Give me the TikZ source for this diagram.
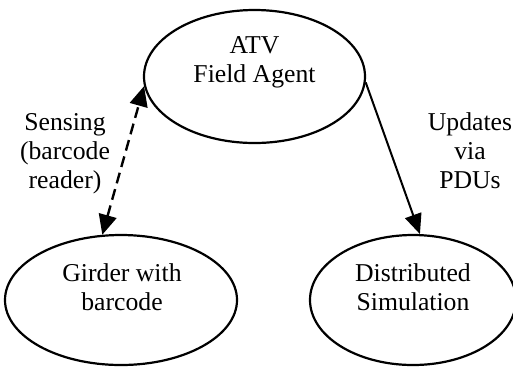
\documentclass[tikz,border=0pt]{standalone}
\usepackage{fontspec}
\setmainfont{Liberation Serif}
\usetikzlibrary{arrows.meta,shapes.geometric}

\begin{document}
\begin{tikzpicture}[x=0.5pt,y=-0.5pt,
    every node/.style={font=\fontsize{12.85}{14.5}\selectfont, align=center},
    actor/.style={draw, ellipse, line width=1.1pt, inner sep=0pt},
    sense/.style={line width=1.2pt, dash pattern=on 5.5pt off 3pt,
                  {Triangle[length=10pt,width=9pt]}-{Triangle[length=10pt,width=9pt]}},
    update/.style={line width=1pt, -{Triangle[length=10pt,width=8.5pt]}}]
\path[use as bounding box, clip] (0,0) rectangle (513,366);

% the three ellipses
\node[actor, minimum width=110.5pt, minimum height=66.5pt] (agent) at (254.5,76.5) {};
\node[actor, minimum width=116pt, minimum height=65pt] (girder) at (121,300) {};
\node[actor, minimum width=103pt, minimum height=65pt] (sim) at (413,300) {};

% texts inside
\node (agenttxt) at (254.5,62) {ATV\\Field Agent};
\node (girdertxt) at (122,287) {Girder with\\barcode};
\node (simtxt) at (413,287) {Distributed\\Simulation};

% links
\draw[sense] (girder.106) -- (agent.185);
\draw[update] (agent.-3.4) -- (sim.84);

\node (senselbl) at (65,154) {Sensing\\(barcode\\reader)};
\node (updlbl) at (470,151) {Updates\\via\\PDUs};
\end{tikzpicture}
\end{document}
